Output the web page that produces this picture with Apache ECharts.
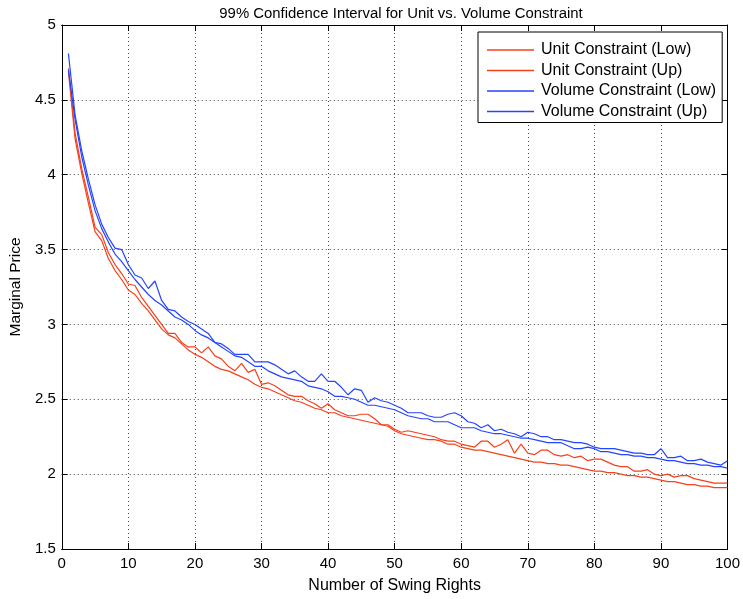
<!DOCTYPE html>
<html>
<head>
<meta charset="utf-8">
<script src="https://cdn.jsdelivr.net/npm/echarts@6/dist/echarts.min.js"></script>
<style>
html,body{margin:0;padding:0;background:#fff;}
#chart{width:743px;height:599px;}
</style>
</head>
<body>
<div id="chart"></div>
<script>
const titleText = "99% Confidence Interval for Unit vs. Volume Constraint";
const xName = "Number of Swing Rights";
const yName = "Marginal Price";
const seriesNames = ["Unit Constraint (Low)", "Unit Constraint (Up)", "Volume Constraint (Low)", "Volume Constraint (Up)"];

const swingRights = [];
for (let i = 1; i <= 100; i++) swingRights.push(i);

const unitLow = [
4.69,4.24,4.01,3.81,3.62,3.56,3.44,3.36,3.30,3.23,
3.20,3.14,3.09,3.03,2.97,2.93,2.91,2.87,2.83,2.80,
2.78,2.75,2.72,2.70,2.69,2.67,2.65,2.63,2.60,2.58,
2.57,2.55,2.53,2.51,2.49,2.48,2.46,2.44,2.43,2.41,
2.41,2.39,2.38,2.37,2.36,2.35,2.34,2.33,2.32,2.29,
2.27,2.26,2.25,2.24,2.23,2.23,2.22,2.20,2.20,2.18,
2.17,2.16,2.16,2.15,2.14,2.13,2.12,2.11,2.10,2.09,
2.08,2.08,2.07,2.07,2.06,2.06,2.05,2.04,2.03,2.02,
2.02,2.01,2.01,2.00,1.99,1.99,1.98,1.98,1.97,1.96,
1.95,1.95,1.94,1.93,1.93,1.92,1.92,1.91,1.91,1.91
];
const unitUp = [
4.71,4.28,4.04,3.85,3.65,3.60,3.48,3.40,3.34,3.27,
3.26,3.18,3.12,3.06,3.00,2.94,2.94,2.88,2.85,2.85,
2.81,2.85,2.79,2.77,2.72,2.69,2.74,2.68,2.70,2.60,
2.61,2.59,2.56,2.53,2.52,2.52,2.49,2.47,2.44,2.47,
2.43,2.41,2.39,2.39,2.40,2.40,2.37,2.33,2.33,2.30,
2.28,2.29,2.28,2.27,2.26,2.25,2.23,2.22,2.22,2.20,
2.19,2.18,2.22,2.22,2.18,2.20,2.23,2.14,2.20,2.14,
2.13,2.16,2.16,2.13,2.12,2.13,2.11,2.12,2.09,2.10,
2.10,2.08,2.06,2.05,2.05,2.02,2.02,2.03,2.00,1.99,
2.00,1.98,1.99,1.99,1.97,1.96,1.95,1.94,1.94,1.94
];
const volumeLow = [
4.70,4.37,4.12,3.93,3.76,3.64,3.55,3.47,3.42,3.36,
3.30,3.25,3.20,3.16,3.13,3.09,3.05,3.03,3.00,2.96,
2.93,2.91,2.88,2.85,2.82,2.79,2.78,2.75,2.72,2.72,
2.69,2.67,2.65,2.64,2.63,2.62,2.59,2.58,2.57,2.55,
2.52,2.52,2.51,2.50,2.48,2.46,2.46,2.45,2.44,2.43,
2.41,2.39,2.38,2.37,2.37,2.35,2.35,2.35,2.33,2.31,
2.31,2.31,2.29,2.28,2.27,2.27,2.26,2.25,2.24,2.24,
2.23,2.22,2.21,2.21,2.21,2.19,2.17,2.17,2.18,2.17,
2.15,2.15,2.14,2.13,2.13,2.12,2.12,2.11,2.11,2.10,
2.09,2.09,2.08,2.07,2.07,2.06,2.06,2.05,2.05,2.04
];
const volumeUp = [
4.81,4.40,4.16,3.97,3.80,3.67,3.58,3.51,3.50,3.40,
3.33,3.31,3.24,3.29,3.16,3.10,3.09,3.05,3.02,3.00,
2.97,2.94,2.88,2.87,2.84,2.80,2.80,2.80,2.75,2.75,
2.75,2.73,2.70,2.67,2.69,2.65,2.62,2.62,2.67,2.62,
2.62,2.58,2.53,2.57,2.56,2.48,2.51,2.49,2.48,2.46,
2.44,2.41,2.41,2.41,2.39,2.38,2.38,2.40,2.41,2.39,
2.35,2.34,2.31,2.33,2.29,2.30,2.28,2.27,2.25,2.28,
2.27,2.25,2.25,2.23,2.23,2.22,2.21,2.21,2.20,2.18,
2.17,2.17,2.17,2.16,2.15,2.14,2.14,2.13,2.13,2.17,
2.11,2.11,2.12,2.09,2.09,2.10,2.08,2.07,2.06,2.09
];

const xTicks = {min: 0, max: 100, interval: 10};
const yTicks = {min: 1.5, max: 5, interval: 0.5};

const RED = '#f7401c';
const BLUE = '#2445ff';
const FONT = '"Liberation Sans", Arial, Helvetica, sans-serif';

function pairs(vals) { return swingRights.map((x, i) => [x, vals[i]]); }

const chart = echarts.init(document.getElementById('chart'), null, {renderer: 'canvas'});

const gridLine = {show: true, lineStyle: {color: '#444', width: 1, type: [1, 3]}};
const axisLine = {show: true, onZero: false, lineStyle: {color: '#000', width: 1}};
const tickIn = {show: true, inside: true, length: 6, lineStyle: {color: '#000', width: 1}};

function mkSeries(name, vals, color) {
  return {
    name: name, type: 'line', data: pairs(vals), symbol: 'none',
    lineStyle: {color: color, width: 1.2}, itemStyle: {color: color},
    animation: false, silent: true
  };
}

chart.setOption({
  animation: false,
  backgroundColor: '#fff',
  textStyle: {fontFamily: FONT},
  title: {
    text: titleText, left: 396, top: 1, textAlign: 'center',
    textStyle: {fontFamily: FONT, fontSize: 14.9, fontWeight: 'normal', color: '#000'}
  },
  grid: {left: 61, right: 14, top: 25, bottom: 46, containLabel: false},
  legend: {
    orient: 'vertical', left: 478, top: 32,
    data: seriesNames.map(n => ({name: n, icon: 'rect'})),
    itemWidth: 47, itemHeight: 1.4, itemGap: 4.5,
    padding: [10, 6, 3, 9],
    backgroundColor: '#fff', borderColor: '#000', borderWidth: 1,
    textStyle: {fontFamily: FONT, fontSize: 16, color: '#000', padding: [0, 0, 0, 2]},
    selectedMode: false
  },
  xAxis: [{
    type: 'value', min: xTicks.min, max: xTicks.max, interval: xTicks.interval,
    name: xName, nameLocation: 'middle', nameGap: 29,
    nameTextStyle: {fontFamily: FONT, fontSize: 16, color: '#000'},
    axisLine: axisLine, axisTick: tickIn, splitLine: gridLine,
    axisLabel: {fontFamily: FONT, fontSize: 15, color: '#000', margin: 7}
  }, {
    type: 'value', position: 'top', min: xTicks.min, max: xTicks.max, interval: xTicks.interval,
    axisLine: axisLine, axisTick: tickIn, splitLine: {show: false}, axisLabel: {show: false}
  }],
  yAxis: [{
    type: 'value', min: yTicks.min, max: yTicks.max, interval: yTicks.interval,
    name: yName, nameLocation: 'middle', nameGap: 32,
    nameTextStyle: {fontFamily: FONT, fontSize: 15.5, color: '#000'},
    axisLine: axisLine, axisTick: tickIn, splitLine: gridLine,
    axisLabel: {fontFamily: FONT, fontSize: 15, color: '#000', margin: 6}
  }, {
    type: 'value', position: 'right', min: yTicks.min, max: yTicks.max, interval: yTicks.interval,
    axisLine: axisLine, axisTick: tickIn, splitLine: {show: false}, axisLabel: {show: false}
  }],
  series: [
    mkSeries(seriesNames[0], unitLow, RED),
    mkSeries(seriesNames[1], unitUp, RED),
    mkSeries(seriesNames[2], volumeLow, BLUE),
    mkSeries(seriesNames[3], volumeUp, BLUE)
  ]
});
</script>
</body>
</html>
